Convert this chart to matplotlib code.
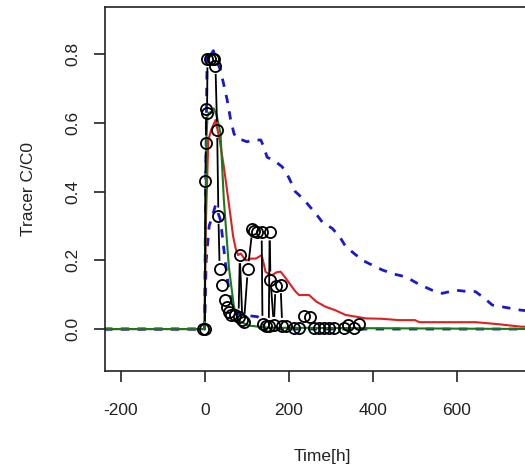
import matplotlib.pyplot as plt
import numpy as np

# observed tracer breakthrough (black circles, type="b")
obs_t = [-5, 0, 1, 2, 3, 5, 6, 12, 18, 22, 25, 29, 32, 35, 41, 47, 52, 57, 63, 71,
         80, 83, 89, 93, 102, 113, 117, 125, 135, 137, 145, 152, 154, 156, 164,
         168, 180, 184, 192, 212, 224, 236, 249, 260, 271, 283, 295, 307, 331,
         341, 355, 367]
obs_c = [0.0, 0.0, 0.43, 0.54, 0.64, 0.63, 0.785, 0.785, 0.785, 0.785, 0.766,
         0.58, 0.33, 0.175, 0.128, 0.086, 0.065, 0.05, 0.04, 0.04, 0.036, 0.215,
         0.026, 0.021, 0.174, 0.29, 0.285, 0.283, 0.281, 0.015, 0.009, 0.009,
         0.281, 0.144, 0.012, 0.125, 0.128, 0.009, 0.009, 0.004, 0.004, 0.038,
         0.036, 0.004, 0.004, 0.004, 0.004, 0.004, 0.002, 0.012, 0.002, 0.015]

# simulated curves
blue1_t = [-240, -1, 2, 5, 10, 15, 20, 25, 37, 45, 53, 61, 69, 75, 89, 100, 115,
           133, 140, 148, 165, 184, 200, 215, 224, 240, 264, 280, 303, 320, 335,
           355, 375, 400, 422, 450, 478, 510, 541, 565, 597, 620, 644, 665, 684,
           720, 752, 800]
blue1_c = [0.0, 0.0, 0.45, 0.79, 0.81, 0.80, 0.81, 0.79, 0.753, 0.71, 0.666,
           0.61, 0.569, 0.555, 0.55, 0.545, 0.55, 0.55, 0.53, 0.50, 0.49, 0.472,
           0.44, 0.40, 0.39, 0.37, 0.336, 0.31, 0.293, 0.27, 0.24, 0.22, 0.2,
           0.185, 0.172, 0.16, 0.152, 0.13, 0.113, 0.104, 0.113, 0.11, 0.109,
           0.09, 0.07, 0.062, 0.055, 0.05]
blue2_t = [-240, -1, 3, 10, 18, 25, 37, 49, 57, 69, 80, 93, 110, 125, 137, 142, 800]
blue2_c = [0.0, 0.0, 0.2, 0.30, 0.33, 0.36, 0.317, 0.19, 0.113, 0.055, 0.045,
           0.04, 0.038, 0.036, 0.026, 0.0, 0.0]
red_t = [-240, -1, 2, 8, 15, 25, 35, 45, 53, 61, 67, 73, 79, 85, 97, 110, 121,
         135, 140, 144, 152, 160, 170, 180, 188, 200, 215, 224, 248, 265, 287,
         310, 335, 360, 383, 420, 462, 500, 510, 580, 645, 700, 752, 800]
red_c = [0.0, 0.0, 0.3, 0.55, 0.58, 0.608, 0.55, 0.472, 0.40, 0.327, 0.27,
         0.235, 0.215, 0.22, 0.2, 0.205, 0.205, 0.215, 0.19, 0.167, 0.16, 0.157,
         0.165, 0.167, 0.155, 0.135, 0.11, 0.099, 0.099, 0.08, 0.065, 0.055,
         0.041, 0.036, 0.031, 0.03, 0.026, 0.026, 0.02, 0.02, 0.02, 0.014, 0.007,
         0.006]
green_t = [-240, -1, 1, 3, 6, 10, 15, 21, 28, 37, 45, 57, 69, 77, 85, 105, 150, 800]
green_c = [0.0, 0.0, 0.3, 0.54, 0.62, 0.63, 0.63, 0.642, 0.62, 0.569, 0.375,
           0.18, 0.065, 0.035, 0.021, 0.01, 0.004, 0.0]

xticks = [-200, 0, 200, 400, 600]
yticks = [0.0, 0.2, 0.4, 0.6, 0.8]

plt.rcParams['font.family'] = ['Liberation Sans', 'DejaVu Sans']

fig = plt.figure(figsize=(5.25, 4.69), dpi=100)
ax = fig.add_axes([105 / 525, 98 / 469, 435 / 525, 364 / 469])
ax.set_xlim(-238, -238 + 435 / 0.42)
ax.set_ylim(-0.122, 0.937)

ax.plot(blue1_t, blue1_c, color='#1a1acc', lw=2, ls=(0, (3, 3)))
ax.plot(blue2_t, blue2_c, color='#1a1acc', lw=2, ls=(0, (3, 3)))
ax.plot(red_t, red_c, color='#e02020', lw=1.5)
ax.plot(green_t, green_c, color='#1a7a1a', lw=1.5)

# type="b": segments with gaps around the circles
ax.plot(obs_t, obs_c, 'o', mfc='none', mec='black', ms=8, mew=1.3)
pts = ax.transData.transform(np.column_stack([obs_t, obs_c]))
gap = 9.0
for p0, p1 in zip(pts[:-1], pts[1:]):
    d = p1 - p0
    L = np.hypot(*d)
    if L <= 2 * gap:
        continue
    u = d / L
    a = ax.transData.inverted().transform([p0 + u * gap, p1 - u * gap])
    ax.plot(a[:, 0], a[:, 1], color='black', lw=1.3)

ax.spines['right'].set_visible(False)
ax.set_xticks(xticks)
ax.set_xticklabels([str(v) for v in xticks])
ax.set_yticks(yticks)
ax.set_yticklabels(['%.1f' % v for v in yticks], rotation=90, va='center')
ax.tick_params(axis='x', length=8, width=1.2, pad=15, labelsize=12.5, colors='#222222')
ax.tick_params(axis='y', length=8, width=1.2, pad=10, labelsize=12.5, colors='#222222')
ax.get_yticklines()[-2].set_color('#eeeeee')
for s in ax.spines.values():
    s.set_linewidth(1.2)
    s.set_color('#222222')

ax.set_xlabel('Time[h]', fontsize=12.5, labelpad=22, color='#222222')
ax.set_ylabel('Tracer C/C0', fontsize=12.5, labelpad=21, color='#222222')

fig.savefig('out.png', dpi=100)
